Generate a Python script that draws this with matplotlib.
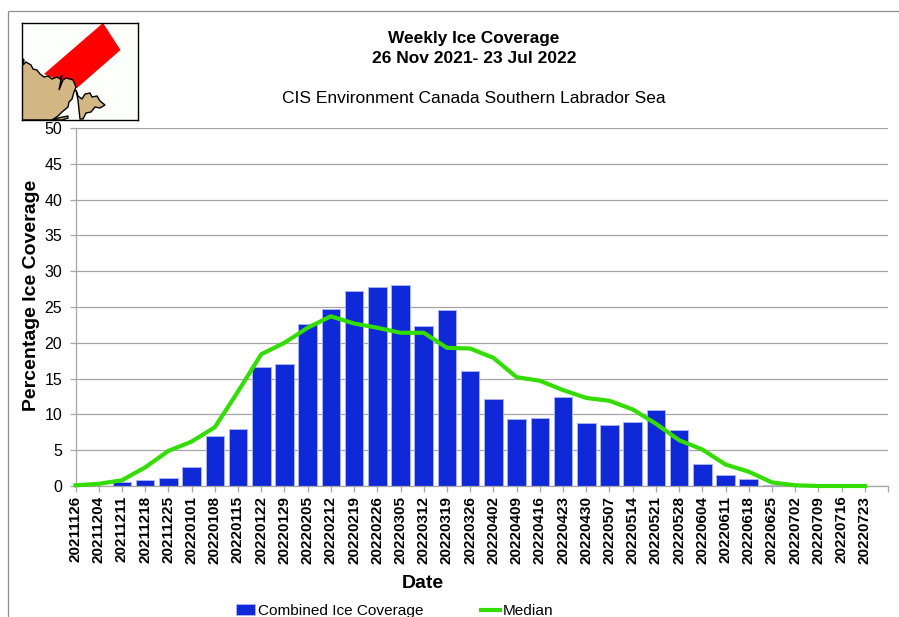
import matplotlib
matplotlib.use("Agg")
import matplotlib.pyplot as plt
from matplotlib.patches import Polygon, Rectangle

dates = ["20211126", "20211204", "20211211", "20211218", "20211225", "20220101", "20220108",
         "20220115", "20220122", "20220129", "20220205", "20220212", "20220219", "20220226",
         "20220305", "20220312", "20220319", "20220326", "20220402", "20220409", "20220416",
         "20220423", "20220430", "20220507", "20220514", "20220521", "20220528", "20220604",
         "20220611", "20220618", "20220625", "20220702", "20220709", "20220716", "20220723"]
ice_coverage = [0, 0, 0.5, 0.9, 1.1, 2.6, 7.0, 7.9, 16.6, 17.0, 22.6, 24.7, 27.3, 27.8, 28.1,
                22.3, 24.6, 16.1, 12.1, 9.4, 9.5, 12.4, 8.8, 8.5, 8.9, 10.6, 7.8, 3.1, 1.5,
                1.0, 0.1, 0, 0, 0, 0]
median = [0.1, 0.3, 0.8, 2.6, 4.9, 6.2, 8.2, 13.2, 18.4, 20.0, 22.1, 23.7, 22.7, 22.1, 21.4,
          21.4, 19.3, 19.2, 17.9, 15.2, 14.7, 13.4, 12.3, 11.9, 10.7, 8.7, 6.4, 5.1, 3.0,
          2.0, 0.5, 0.1, 0, 0, 0]

# locator map outlines, in picture pixels
region = [(103, 23), (120.5, 50), (77, 88), (44, 74)]
mainland = [(22, 58), (24, 60), (23, 65), (26, 62), (31, 65), (33, 69), (37, 70), (40, 74), (44, 77),
            (48, 76), (52, 79), (57, 77), (60, 79), (62, 75), (59, 90), (63, 80), (66, 78), (70, 79),
            (73, 80), (76, 87), (74, 92), (72, 99), (69, 102), (68, 107), (62, 112), (58, 116),
            (52, 120), (22, 120)]
newfoundland = [(76, 90), (78, 96), (82, 99), (85, 94), (90, 93), (92, 97), (97, 96), (100, 101),
                (105, 105), (100, 108), (95, 107), (91, 112), (86, 113), (83, 119), (80, 119),
                (79, 110), (78, 100)]
island = [(52, 120), (58, 118), (68, 116), (68, 118), (62, 120)]

W, H = 899, 617
plt.rcParams["font.family"] = ["Liberation Sans", "DejaVu Sans"]
fig = plt.figure(figsize=(W / 100, H / 100), dpi=100)


def box(x0, y0, x1, y1):
    return [x0 / W, 1 - y1 / H, (x1 - x0) / W, (y1 - y0) / H]


# outer chart border runs off the picture on the right and bottom
fig.add_artist(Rectangle((8.2 / W, -0.1), 1.1, 1.1 - 10.5 / H, transform=fig.transFigure,
                         fill=False, edgecolor="#8f8f8f", linewidth=0.9))

ax = fig.add_axes(box(75.5, 128, 888, 486))
x = list(range(len(dates)))
bars = ax.bar(x, ice_coverage, width=0.8, color="#0f28d8", edgecolor="#aab2f0", linewidth=0.7,
              label="Combined Ice Coverage", zorder=2)
line, = ax.plot(x, median, color="#33dd00", linewidth=3.0, label="Median", zorder=3,
                solid_joinstyle="round", clip_on=False)

ax.set_xlim(0, 35)
ax.set_ylim(0, 50)
ax.set_yticks(range(0, 51, 5))
ax.set_xticks(list(range(36)))
ax.set_xticklabels(dates + [""], rotation=90, fontweight="bold", fontsize=11)
ax.tick_params(axis="y", labelsize=11.5, length=4, color="#a6a6a6", width=0.9, pad=5.6)
ax.tick_params(axis="x", length=4, color="#a6a6a6", width=0.9, pad=3)
ax.yaxis.grid(True, color="#a6a6a6", linewidth=0.9, zorder=0)
ax.set_axisbelow(True)
for side in ["top", "right"]:
    ax.spines[side].set_visible(False)
for side in ["left", "bottom"]:
    ax.spines[side].set_color("#a6a6a6")
    ax.spines[side].set_linewidth(0.9)

fig.text(32 / W, 1 - 295 / H, "Percentage Ice Coverage", rotation=90, ha="center", va="center",
         fontsize=14, fontweight="bold")
fig.text(422.5 / W, 1 - 583 / H, "Date", ha="center", va="center", fontsize=14, fontweight="bold")

fig.text(474 / W, 1 - 38.5 / H, "Weekly Ice Coverage", ha="center", va="center", fontsize=12.4, fontweight="bold")
fig.text(474 / W, 1 - 58.5 / H, "26 Nov 2021- 23 Jul 2022", ha="center", va="center", fontsize=12.5, fontweight="bold")
fig.text(474 / W, 1 - 98.5 / H, "CIS Environment Canada Southern Labrador Sea", ha="center", va="center", fontsize=12.5)

# legend sits partly under the bottom edge
fig.legend(handles=[bars, line], loc="center left", bbox_to_anchor=(236 / W, 1 - 611 / H), ncol=2,
           frameon=False, fontsize=11.1, handlelength=1.25, handletextpad=0.15, columnspacing=3.75,
           borderpad=0, borderaxespad=0)

# locator map
inset = fig.add_axes(box(22, 23, 138, 120))
inset.set_xlim(22, 138)
inset.set_ylim(120, 23)
inset.set_xticks([])
inset.set_yticks([])
inset.set_facecolor("#fdfffb")
inset.add_patch(Polygon(region, closed=True, facecolor="#ff0000", edgecolor="none"))
for outline in [mainland, newfoundland, island]:
    inset.add_patch(Polygon(outline, closed=True, facecolor="#d2b684", edgecolor="black", linewidth=1.0))
for spine in inset.spines.values():
    spine.set_linewidth(1.0)

fig.savefig("out.png", dpi=100)
